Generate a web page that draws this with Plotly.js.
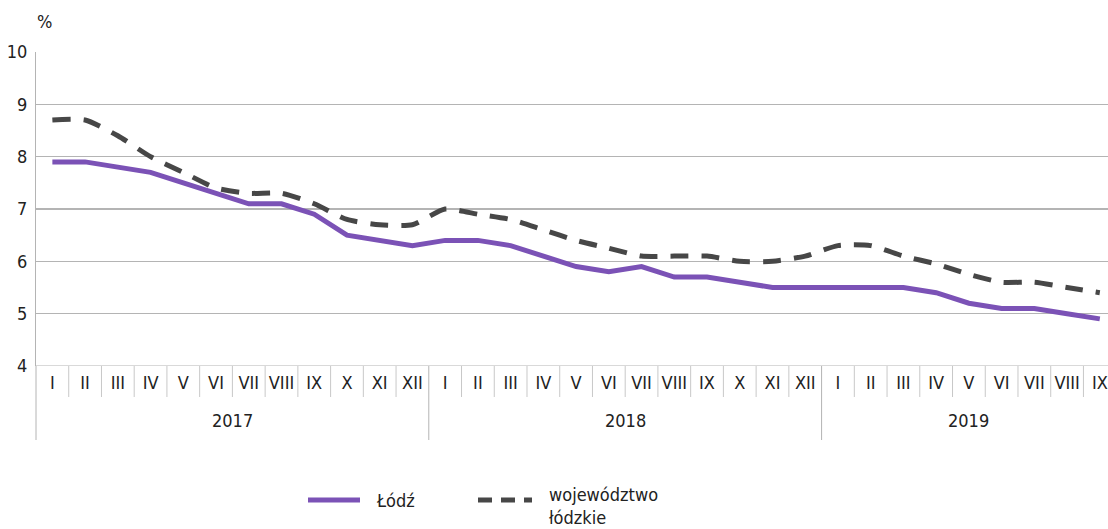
<!DOCTYPE html>
<html>
<head>
<meta charset="utf-8">
<script src="https://cdn.plot.ly/plotly-3.0.1.min.js"></script>
<style>html,body{margin:0;padding:0;background:#fff;}#chart{width:1108px;height:529px;}</style>
</head>
<body>
<div id="chart"></div>
<script>
const years = ["2017","2017","2017","2017","2017","2017","2017","2017","2017","2017","2017","2017",
               "2018","2018","2018","2018","2018","2018","2018","2018","2018","2018","2018","2018",
               "2019","2019","2019","2019","2019","2019","2019","2019","2019"];
const months = ["I","II","III","IV","V","VI","VII","VIII","IX","X","XI","XII",
                "I","II","III","IV","V","VI","VII","VIII","IX","X","XI","XII",
                "I","II","III","IV","V","VI","VII","VIII","IX"];
const lodz = [7.9,7.9,7.8,7.7,7.5,7.3,7.1,7.1,6.9,6.5,6.4,6.3,
              6.4,6.4,6.3,6.1,5.9,5.8,5.9,5.7,5.7,5.6,5.5,5.5,
              5.5,5.5,5.5,5.4,5.2,5.1,5.1,5.0,4.9];
const wojewodztwo = [8.7,8.7,8.4,8.0,7.7,7.4,7.3,7.3,7.1,6.8,6.7,6.7,
                     7.0,6.9,6.8,6.6,6.4,6.25,6.1,6.1,6.1,6.0,6.0,6.1,
                     6.3,6.3,6.1,5.95,5.75,5.6,5.6,5.5,5.4];
const seriesNames = ["Łódź", "województwo<br>łódzkie"];
const seriesColors = ["#7b52b6", "#474747"];

const FONT = '"Liberation Sans Narrow", "DejaVu Sans Condensed", "Roboto", sans-serif';
const TXT = '#222';
const LINE = '#b4b4b4';

// unique category per month, labelled by the month numeral
const cats = months.map((m, i) => years[i] + ' ' + m);

const traces = [
  {x:cats, y:lodz, type:'scatter', mode:'lines', name:seriesNames[0],
   line:{color:seriesColors[0], width:5}},
  {x:cats, y:wojewodztwo, type:'scatter', mode:'lines', name:seriesNames[1],
   line:{color:seriesColors[1], width:5, dash:'18px,13px', shape:'spline', smoothing:0.6}}
];

// paper-coordinate helpers (plot area: 36..1108 px wide, 52..366 px tall)
const px = v => (v - 36) / 1072;
const py = v => (366 - v) / 314;

const shapes = [
  {type:'line', xref:'paper', yref:'y', x0:0, x1:1, y0:4, y1:4, line:{color:LINE, width:1.2}},
  {type:'line', xref:'paper', yref:'paper', x0:0, x1:0, y0:0, y1:py(440), line:{color:LINE, width:1}}
];
const annotations = [];
// month separators and year groups derived from the category list
const yearList = [...new Set(years)];
yearList.forEach(yr => {
  const first = years.indexOf(yr), last = years.lastIndexOf(yr);
  annotations.push({xref:'x', yref:'paper', x:(first + last) / 2, y:py(420), text:yr, showarrow:false,
    xanchor:'center', yanchor:'middle', font:{family:FONT, size:18, color:TXT}});
  if (last < years.length - 1) {
    shapes.push({type:'line', xref:'x', yref:'paper', x0:last + 0.5, x1:last + 0.5, y0:0, y1:py(440),
      line:{color:LINE, width:1}});
  }
});
for (let i = 1; i < cats.length; i++) {
  if (years[i] === years[i - 1]) {
    shapes.push({type:'line', xref:'x', yref:'paper', x0:i - 0.5, x1:i - 0.5, y0:0, y1:py(397),
      line:{color:'#c8c8c8', width:1}});
  }
}
// legend
shapes.push({type:'line', xref:'paper', yref:'paper', x0:px(308), x1:px(360), y0:py(500), y1:py(500),
  line:{color:seriesColors[0], width:5}});
shapes.push({type:'line', xref:'paper', yref:'paper', x0:px(478), x1:px(532), y0:py(500), y1:py(500),
  line:{color:seriesColors[1], width:5, dash:'14px,9px'}});
annotations.push(
  {xref:'paper', yref:'paper', x:0, y:1, xshift:-1, yshift:18, text:'%', showarrow:false,
   xanchor:'left', yanchor:'bottom', font:{family:FONT, size:18, color:TXT}},
  {xref:'paper', yref:'paper', x:px(374), y:py(500), text:seriesNames[0], showarrow:false,
   xanchor:'left', yanchor:'middle', align:'left', font:{family:FONT, size:18, color:TXT}},
  {xref:'paper', yref:'paper', x:px(547), y:py(506), text:seriesNames[1], showarrow:false,
   xanchor:'left', yanchor:'middle', align:'left', font:{family:FONT, size:18, color:TXT}}
);

const layout = {
  width:1108, height:529,
  margin:{l:36, r:0, t:52, b:163},
  paper_bgcolor:'#fff', plot_bgcolor:'#fff',
  font:{family:FONT, size:18, color:TXT},
  showlegend:false,
  xaxis:{type:'category', range:[-0.5, 32.25], showgrid:false, zeroline:false,
         showline:false, ticks:'', tickmode:'array', tickvals:cats, ticktext:months,
         tickangle:0, ticklabelstandoff:4,
         tickfont:{family:FONT, size:18, color:TXT}},
  yaxis:{range:[4,10], dtick:1, tick0:4, showgrid:true, gridcolor:LINE, gridwidth:1.2,
         zeroline:false, showline:true, linecolor:LINE, ticks:'outside', ticklen:4, tickcolor:'rgba(0,0,0,0)',
         tickfont:{family:FONT, size:18, color:TXT}},
  shapes:shapes,
  annotations:annotations
};

Plotly.newPlot('chart', traces, layout, {displayModeBar:false, staticPlot:true});
</script>
</body>
</html>
